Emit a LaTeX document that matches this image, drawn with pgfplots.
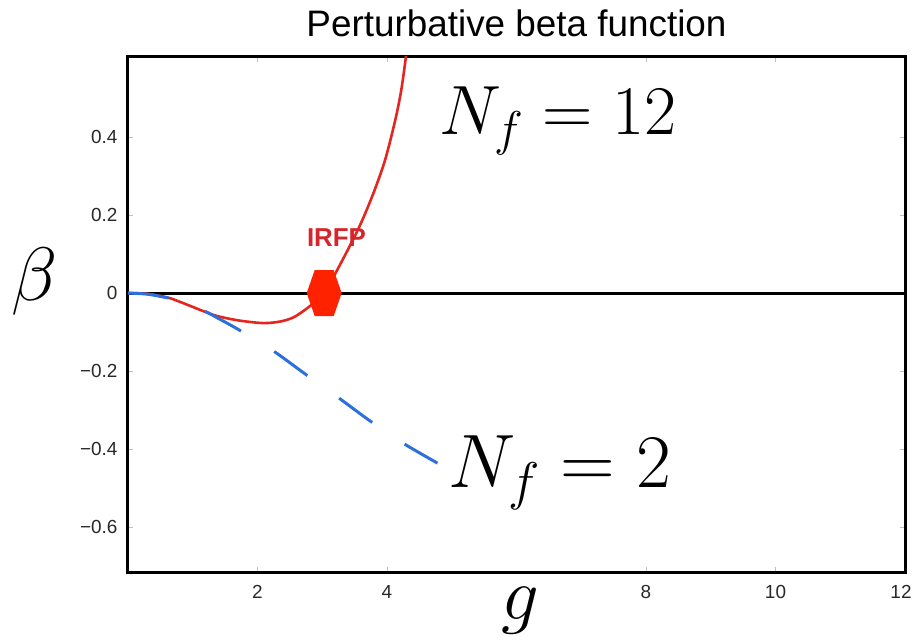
\RequirePackage{fix-cm}
\documentclass[border=0pt]{standalone}
\usepackage[no-math]{fontspec}
\setmainfont{Liberation Sans}
\usepackage{pgfplots}
\pgfplotsset{compat=1.18}
\definecolor{redline}{RGB}{228,38,30}
\definecolor{blueline}{RGB}{44,112,220}
\definecolor{hexred}{RGB}{255,34,0}
\definecolor{irfp}{RGB}{212,38,44}
\definecolor{ticklab}{RGB}{40,40,40}
\pgfdeclareplotmark{hexv}{%
  \pgfpathmoveto{\pgfqpoint{-17.5bp}{0bp}}%
  \pgfpathlineto{\pgfqpoint{-9.5bp}{23bp}}%
  \pgfpathlineto{\pgfqpoint{9.5bp}{23bp}}%
  \pgfpathlineto{\pgfqpoint{17.5bp}{0bp}}%
  \pgfpathlineto{\pgfqpoint{9.5bp}{-23bp}}%
  \pgfpathlineto{\pgfqpoint{-9.5bp}{-23bp}}%
  \pgfpathclose
  \pgfusepathqfill}
\begin{document}
\begin{tikzpicture}
\useasboundingbox (-128bp,-68bp) rectangle (785bp,572bp);
\begin{axis}[
  at={(0,0)}, anchor=south west,
  scale only axis, width=777bp, height=515bp,
  xmin=0, xmax=12, ymin=-0.715, ymax=0.605,
  axis line style={line width=3bp, black},
  xtick={2,4,8,10,12}, xticklabels={2,4,8,10,{12\hspace*{8bp}}},
  ytick={-0.6,-0.4,-0.2,0,0.2,0.4},
  yticklabels={−0.6,−0.4,−0.2,0,0.2,0.4},
  tick align=inside, major tick length=5bp,
  tick style={black!25, line width=0.8bp},
  ticklabel style={font=\fontsize{19}{19}\selectfont, text=ticklab},
  yticklabel style={xshift=-7bp},
  xticklabel style={yshift=-10bp},
]
\addplot[black, line width=3bp] coordinates {(0,0) (12,0)};
\addplot[redline, line width=2.6bp, smooth] coordinates {
  (0,0) (0.3,-0.002) (0.6,-0.011) (0.81,-0.023) (1.32,-0.056) (1.7,-0.07)
  (2.09,-0.077) (2.35,-0.073) (2.56,-0.062) (2.79,-0.036) (3.03,0)
  (3.25,0.065) (3.5,0.145) (3.64,0.195) (3.8,0.26) (3.95,0.33) (4.05,0.39)
  (4.15,0.46) (4.22,0.52) (4.28,0.59) (4.33,0.66)};
\addplot[blueline, line width=3bp, smooth, dash pattern=on 41bp off 39bp] coordinates {
  (0,0) (0.3,-0.003) (0.6,-0.012) (0.9,-0.024) (1.16,-0.044) (1.45,-0.07) (1.72,-0.095)
  (2.25,-0.149) (2.74,-0.208) (3.24,-0.267) (3.74,-0.328) (4.25,-0.385) (4.78,-0.436)};
\addplot[only marks, mark=hexv, color=hexred] coordinates {(3.03,0)};
\end{axis}
\node[anchor=base, inner sep=0, text=irfp, font=\fontsize{26}{26}\selectfont\bfseries] at (208.5bp,325bp) {IRFP};
\node[anchor=base, inner sep=0, font=\fontsize{37}{37}\selectfont] at (388.5bp,535bp) {Perturbative beta function};
\node[anchor=base, inner sep=0, font=\fontsize{76}{76}\selectfont] at (-93bp,271bp) {$\beta$};
\node[anchor=base, inner sep=0, font=\fontsize{75}{75}\selectfont] at (392bp,-47bp) {$g$};
\node[anchor=base, inner sep=0, font=\fontsize{70}{70}\selectfont] at (430bp,437bp) {$N_f=12$};
\node[anchor=base, inner sep=0, font=\fontsize{76}{76}\selectfont] at (432bp,84bp) {$N_f=2$};
\end{tikzpicture}
\end{document}
